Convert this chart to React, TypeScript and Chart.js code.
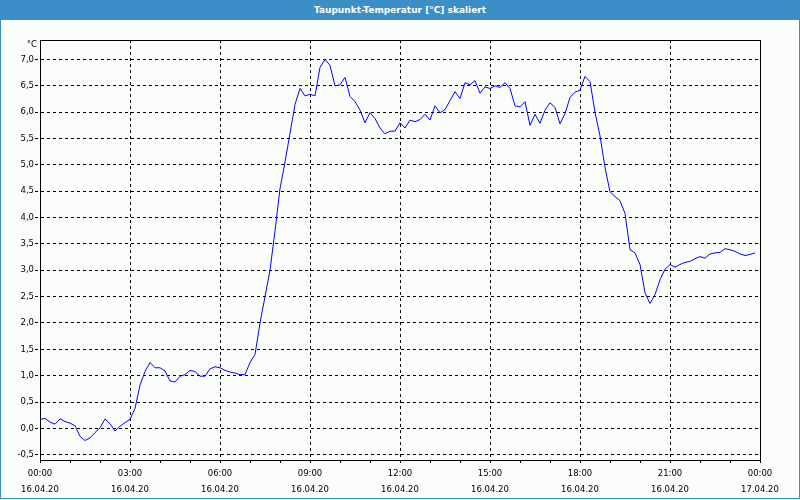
import React, { useEffect, useRef } from 'react';
import { Chart, registerables } from 'chart.js';

Chart.register(...registerables);

const TITLE = 'Taupunkt-Temperatur [°C] skaliert';
const UNIT = '°C';
const STEP_MINUTES = 10;

// Dew point temperature, one value every 10 minutes from 16.04.20 00:00
const DEW_POINT = [
  0.17, 0.19, 0.12, 0.08, 0.18, 0.13, 0.10, 0.05, -0.15, -0.23,
  -0.18, -0.08, 0.01, 0.18, 0.09, -0.05, 0.04, 0.11, 0.17, 0.38,
  0.82, 1.08, 1.25, 1.15, 1.15, 1.09, 0.90, 0.88, 0.99, 1.02,
  1.10, 1.08, 0.99, 0.99, 1.13, 1.17, 1.15, 1.10, 1.07, 1.05,
  1.02, 1.02, 1.25, 1.40, 2.00, 2.50, 3.00, 3.75, 4.55, 5.05,
  5.60, 6.15, 6.45, 6.31, 6.34, 6.31, 6.85, 7.00, 6.89, 6.50,
  6.52, 6.66, 6.30, 6.20, 6.04, 5.80, 5.99, 5.88, 5.70, 5.59,
  5.64, 5.64, 5.80, 5.70, 5.85, 5.82, 5.86, 5.96, 5.85, 6.12,
  5.99, 6.05, 6.22, 6.39, 6.26, 6.56, 6.52, 6.60, 6.36, 6.48,
  6.45, 6.50, 6.47, 6.56, 6.45, 6.12, 6.10, 6.20, 5.75, 5.96,
  5.79, 6.04, 6.18, 6.09, 5.78, 5.97, 6.28, 6.38, 6.42, 6.68,
  6.58, 6.00, 5.55, 4.95, 4.49, 4.40, 4.32, 4.08, 3.39, 3.33,
  3.11, 2.57, 2.37, 2.54, 2.82, 3.02, 3.11, 3.06, 3.11, 3.15,
  3.17, 3.22, 3.26, 3.23, 3.31, 3.33, 3.34, 3.41, 3.39, 3.36,
  3.31, 3.28, 3.30, 3.33,
];

const HOUR_LABELS = ['00:00', '03:00', '06:00', '09:00', '12:00', '15:00', '18:00', '21:00', '00:00'];
const DATE_LABELS = ['16.04.20', '16.04.20', '16.04.20', '16.04.20', '16.04.20', '16.04.20', '16.04.20', '16.04.20', '17.04.20'];
const Y_TICKS = [-0.5, 0, 0.5, 1, 1.5, 2, 2.5, 3, 3.5, 4, 4.5, 5, 5.5, 6, 6.5, 7];
const Y_MIN = -0.6;
const Y_MAX = 7.37;
const X_MAX_MINUTES = 1440;
const LABEL_STEP_MINUTES = 180;

const BLUE_BAR = '#3c8fc6';
const BG = '#fbfdfb';
const FONT = 'DejaVu Sans';

export default function App() {
  const canvasRef = useRef<HTMLCanvasElement | null>(null);

  useEffect(() => {
    const canvas = canvasRef.current;
    if (!canvas) return;

    const framePlugin = {
      id: 'frame',
      afterDraw(chart: any) {
        const { ctx, chartArea } = chart;
        ctx.save();
        ctx.strokeStyle = '#000';
        ctx.lineWidth = 1;
        ctx.beginPath();
        ctx.moveTo(chartArea.left, chartArea.top + 0.5);
        ctx.lineTo(chartArea.right + 1, chartArea.top + 0.5);
        ctx.moveTo(chartArea.right + 0.5, chartArea.top);
        ctx.lineTo(chartArea.right + 0.5, chartArea.bottom + 1);
        ctx.stroke();
        ctx.fillStyle = '#000';
        ctx.font = `8.5px "${FONT}"`;
        ctx.textAlign = 'right';
        ctx.textBaseline = 'middle';
        ctx.fillText(UNIT, chartArea.left - 3, chartArea.top + 5);
        ctx.restore();
      },
    };

    const chart = new Chart(canvas, {
      type: 'line',
      data: {
        datasets: [
          {
            data: DEW_POINT.map((v, i) => ({ x: i * STEP_MINUTES, y: v })),
            borderColor: '#0000ff',
            borderWidth: 1,
            pointRadius: 0,
            tension: 0,
            fill: false,
          },
        ],
      },
      options: {
        animation: false,
        responsive: false,
        devicePixelRatio: 1,
        layout: { padding: { top: 40, right: 40, left: 0, bottom: 0 } },
        plugins: {
          legend: { display: false },
          title: { display: false },
          tooltip: { enabled: false },
        },
        scales: {
          x: {
            type: 'linear',
            min: 0,
            max: X_MAX_MINUTES,
            afterFit(scale: any) {
              scale.height = 40;
            },
            ticks: {
              stepSize: 60,
              autoSkip: false,
              maxRotation: 0,
              padding: 2.5,
              color: '#000',
              font: { family: FONT, size: 8.5, lineHeight: 16 / 8.5 },
              callback(value: any) {
                const v = Number(value);
                if (v % LABEL_STEP_MINUTES !== 0) return '';
                const i = v / LABEL_STEP_MINUTES;
                return [HOUR_LABELS[i], DATE_LABELS[i]];
              },
            },
            grid: {
              color: (ctx: any) => {
                const v = ctx.tick ? ctx.tick.value : -1;
                return v % LABEL_STEP_MINUTES === 0 && v > 0 && v < X_MAX_MINUTES ? '#000' : 'rgba(0,0,0,0)';
              },
              tickColor: '#000',
              tickLength: 3,
              lineWidth: 1,
            },
            border: { display: true, color: '#000', width: 1, dash: [3, 3] },
          },
          y: {
            type: 'linear',
            min: Y_MIN,
            max: Y_MAX,
            afterFit(scale: any) {
              scale.width = 40;
            },
            afterBuildTicks(scale: any) {
              scale.ticks = Y_TICKS.map((v) => ({ value: v }));
            },
            ticks: {
              padding: 1,
              color: '#000',
              font: { family: FONT, size: 8.5 },
              callback(value: any) {
                return Number(value).toFixed(1).replace('.', ',');
              },
            },
            grid: {
              color: '#000',
              tickColor: '#000',
              tickLength: 5,
              lineWidth: 1,
              tickBorderDash: [3, 3],
            },
            border: { display: true, color: '#000', width: 1, dash: [3, 3] },
          },
        },
      },
      plugins: [framePlugin],
    } as any);

    return () => {
      chart.destroy();
    };
  }, []);

  return (
    <div style={{ position: 'absolute', left: 0, top: 0, width: 800, height: 500, background: BG, overflow: 'hidden' }}>
      <canvas ref={canvasRef} width={800} height={500} style={{ position: 'absolute', left: 0, top: 0, width: 800, height: 500 }} />
      <div
        style={{
          position: 'absolute',
          left: 0,
          top: 0,
          width: 800,
          height: 20,
          background: BLUE_BAR,
          color: '#fff',
          fontFamily: FONT,
          fontWeight: 'bold',
          fontSize: 9,
          lineHeight: '20px',
          textAlign: 'center',
        }}
      >
        {TITLE}
      </div>
      <div
        style={{
          position: 'absolute',
          left: 0,
          top: 20,
          width: 800,
          height: 479,
          boxSizing: 'border-box',
          borderLeft: `1px solid ${BLUE_BAR}`,
          borderRight: `1px solid ${BLUE_BAR}`,
          borderBottom: `1px solid ${BLUE_BAR}`,
          pointerEvents: 'none',
        }}
      />
    </div>
  );
}
